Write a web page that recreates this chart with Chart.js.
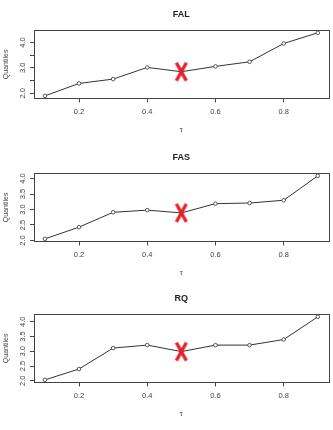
<!DOCTYPE html>
<html>
<head>
  <meta charset="UTF-8" />
  <title>Quantiles by tau</title>
  <script src="https://cdn.jsdelivr.net/npm/chart.js"></script>
  <style>
    body {
      margin: 0;
      background-color: #fff;
      width: 333px;
      height: 430px;
      overflow: hidden;
      position: relative;
    }

    .panel {
      position: absolute;
      left: 0;
      width: 333px;
      height: 143px;
    }
  </style>
</head>
<body>

  <div class="panel" style="top:0px"><canvas id="chartFAL" width="333" height="143"></canvas></div>
  <div class="panel" style="top:143px"><canvas id="chartFAS" width="333" height="143"></canvas></div>
  <div class="panel" style="top:284px"><canvas id="chartRQ" width="333" height="143"></canvas></div>

  <script>
    // data
    const tau = [0.1, 0.2, 0.3, 0.4, 0.5, 0.6, 0.7, 0.8, 0.9];
    const falQuantiles = [1.90, 2.39, 2.56, 3.02, 2.85, 3.06, 3.24, 3.96, 4.38];
    const fasQuantiles = [2.05, 2.43, 2.91, 2.98, 2.89, 3.19, 3.21, 3.30, 4.09];
    const rqQuantiles = [2.03, 2.40, 3.11, 3.21, 2.99, 3.21, 3.21, 3.40, 4.17];
    const markedTau = 0.5;

    const xTickValues = [0.2, 0.4, 0.6, 0.8];
    const yTickValues = [2.0, 2.5, 3.0, 3.5, 4.0];
    const falYLabels = ['2.0', '', '3.0', '', '4.0'];
    const fasYLabels = ['2.0', '2.5', '3.0', '3.5', '4.0'];
    const rqYLabels = ['2.0', '2.5', '3.0', '3.5', '4.0'];

    const FONT = "'Liberation Sans', Arial, sans-serif";
    const INK = '#444';

    // tall red cross used as the point style for the marked quantile
    const cross = document.createElement('canvas');
    cross.width = 14;
    cross.height = 21;
    (function () {
      const c = cross.getContext('2d');
      c.strokeStyle = '#e3212b';
      c.lineWidth = 3.4;
      c.beginPath();
      c.moveTo(2, 1.5); c.lineTo(12, 19.5);
      c.moveTo(12, 1.5); c.lineTo(2, 19.5);
      c.stroke();
    })();

    const boxPlugin = {
      id: 'box',
      afterDraw(chart) {
        const { ctx, chartArea: a } = chart;
        ctx.save();
        ctx.strokeStyle = INK;
        ctx.lineWidth = 1;
        ctx.strokeRect(Math.round(a.left) + 0.5, Math.round(a.top) + 0.5,
          Math.round(a.right - a.left), Math.round(a.bottom - a.top));
        ctx.restore();
      }
    };

    // R style 4% range extension
    function padRange(lo, hi) {
      const d = (hi - lo) * 0.04;
      return [lo - d, hi + d];
    }

    function makeChart(id, title, values, yLabels) {
      const [xmin, xmax] = padRange(Math.min(...tau), Math.max(...tau));
      const [ymin, ymax] = padRange(Math.min(...values), Math.max(...values));
      const markIdx = tau.indexOf(markedTau);

      return new Chart(document.getElementById(id), {
        type: 'line',
        data: {
          datasets: [
            {
              data: [{ x: markedTau, y: values[markIdx] }],
              showLine: false,
              pointStyle: cross,
              pointRadius: 10,
              order: 0
            },
            {
              data: tau.map((t, i) => ({ x: t, y: values[i] })),
              borderColor: '#333',
              borderWidth: 1,
              tension: 0,
              pointRadius: 1.8,
              pointBorderWidth: 0.8,
              pointBorderColor: '#333',
              pointBackgroundColor: '#fff',
              order: 1
            }
          ]
        },
        options: {
          responsive: false,
          animation: false,
          events: [],
          layout: { autoPadding: false, padding: { left: 0, right: 4.3, top: 0, bottom: 0 } },
          plugins: {
            legend: { display: false },
            tooltip: { enabled: false },
            title: {
              display: true,
              fullSize: false,
              text: title,
              color: '#222',
              font: { family: FONT, size: 9, weight: 'bold' },
              padding: { top: 9.3, bottom: 10.2 }
            }
          },
          scales: {
            x: {
              type: 'linear',
              min: xmin,
              max: xmax,
              afterBuildTicks: s => { s.ticks = xTickValues.map(v => ({ value: v })); },
              afterFit: s => { s.height = 44.6; s.paddingLeft = 0; s.paddingRight = 0; },
              ticks: {
                color: INK,
                padding: 5,
                maxRotation: 0,
                font: { family: FONT, size: 7.5 },
                callback: v => v.toFixed(1)
              },
              grid: { display: true, drawOnChartArea: false, drawTicks: true, tickLength: 4, color: INK },
              border: { display: false },
              title: {
                display: true,
                text: 'τ',
                color: INK,
                font: { family: FONT, size: 7.5 },
                padding: { top: 0, bottom: 8.5 }
              }
            },
            y: {
              min: ymin,
              max: ymax,
              afterBuildTicks: s => { s.ticks = yTickValues.map(v => ({ value: v })); },
              afterFit: s => { s.width = 34; s.paddingTop = 0; s.paddingBottom = 0; },
              ticks: {
                color: INK,
                padding: 1.8,
                minRotation: 90,
                maxRotation: 90,
                crossAlign: 'center',
                font: { family: FONT, size: 7.5 },
                callback: (v, i) => yLabels[i]
              },
              grid: { display: true, drawOnChartArea: false, drawTicks: true, tickLength: 4, color: INK },
              border: { display: false },
              title: {
                display: true,
                text: 'Quantiles',
                color: INK,
                font: { family: FONT, size: 7 },
                padding: { top: 2.3, bottom: 0 }
              }
            }
          }
        },
        plugins: [boxPlugin]
      });
    }

    makeChart('chartFAL', 'FAL', falQuantiles, falYLabels);
    makeChart('chartFAS', 'FAS', fasQuantiles, fasYLabels);
    makeChart('chartRQ', 'RQ', rqQuantiles, rqYLabels);
  </script>
</body>
</html>
